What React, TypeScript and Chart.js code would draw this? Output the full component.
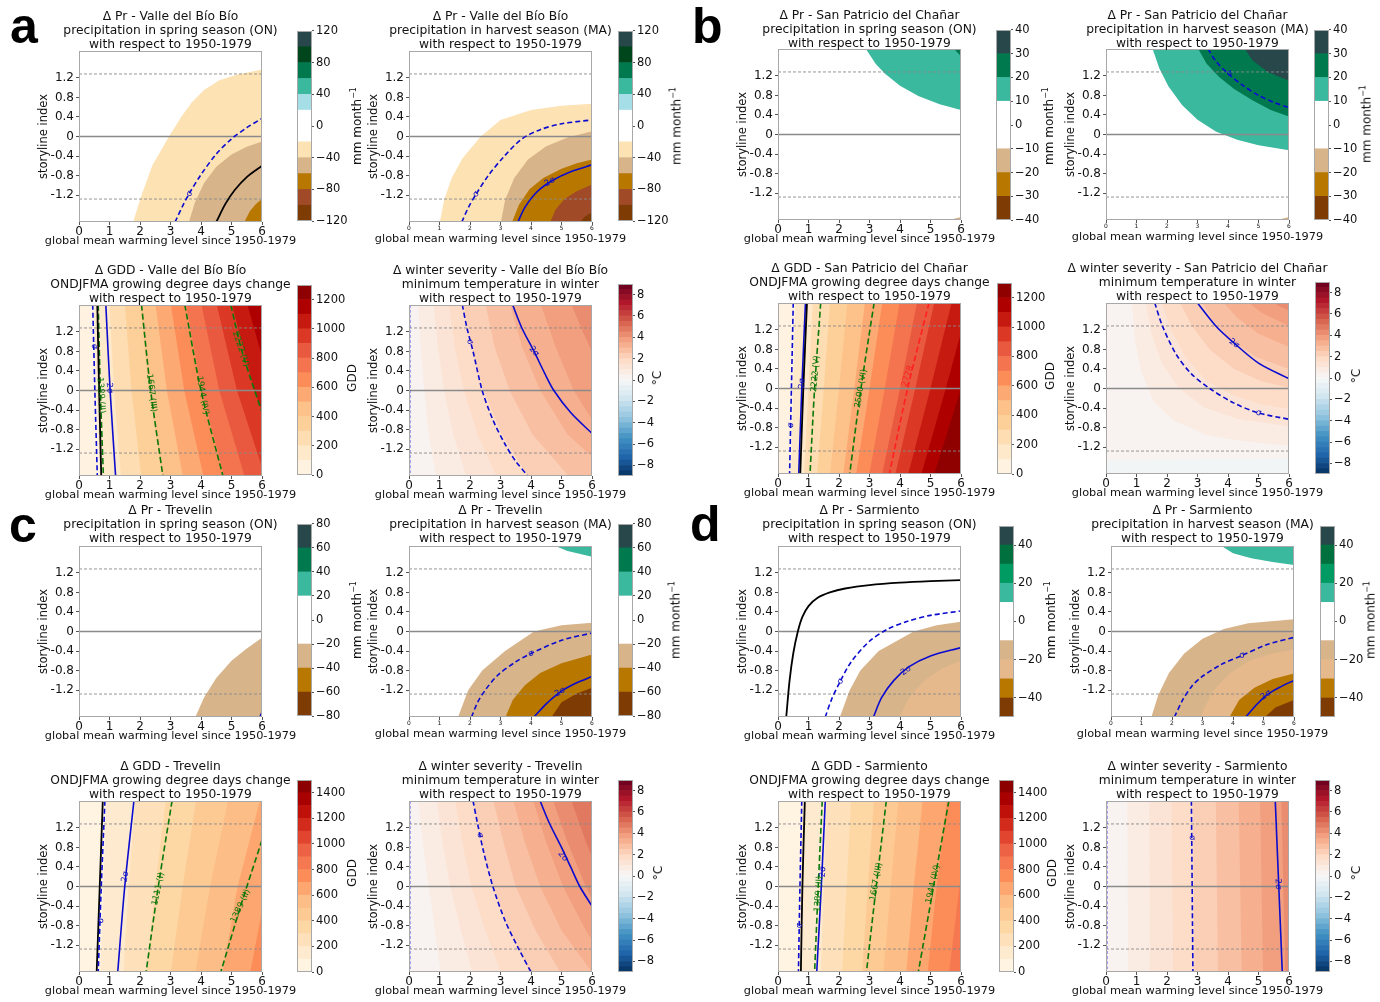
import React, { useEffect, useRef } from "react";
import { Chart, registerables } from "chart.js";

Chart.register(...registerables);

const FONT = "'DejaVu Sans', 'Liberation Sans', sans-serif";

// ---------------- axes ----------------
const xTickValues = [0, 1, 2, 3, 4, 5, 6];
const yTickValues = [-1.2, -0.8, -0.4, 0, 0.4, 0.8, 1.2];
const yTickLabels = ["-1.2", "-0.8", "-0.4", "0", "0.4", "0.8", "1.2"];
const zeroRef = [[0, 0], [6, 0]];
const upperRef = [[0, 1.28], [6, 1.28]];
const lowerRef = [[0, -1.28], [6, -1.28]];

// ---------------- colorbars ----------------
const cbPrAEdges = [-120, -100, -80, -60, -40, -20, 0, 20, 40, 60, 80, 100, 120];
const cbPrAColors = ["#7f3b04", "#a04a28", "#b87800", "#d8b48b", "#fde2b4", "#ffffff", "#ffffff", "#a6dee7", "#3bb99f", "#00794f", "#00461c", "#27474a"];
const cbPrATicks = [-120, -80, -40, 0, 40, 80, 120];

const cbPrBEdges = [-40, -30, -20, -10, 0, 10, 20, 30, 40];
const cbPrBColors = ["#7f3b04", "#b87800", "#d8b48b", "#ffffff", "#ffffff", "#3bb99f", "#00794f", "#27474a"];
const cbPrBTicks = [-40, -30, -20, -10, 0, 10, 20, 30, 40];

const cbPrCEdges = [-80, -60, -40, -20, 0, 20, 40, 60, 80];
const cbPrCColors = ["#7f3b04", "#b87800", "#d8b48b", "#ffffff", "#ffffff", "#3bb99f", "#00794f", "#27474a"];
const cbPrCTicks = [-80, -60, -40, -20, 0, 20, 40, 60, 80];

const cbPrDEdges = [-50, -40, -30, -20, -10, 0, 10, 20, 30, 40, 50];
const cbPrDColors = ["#7f3b04", "#b87800", "#e6b98c", "#d8b48b", "#ffffff", "#ffffff", "#3bb99f", "#009b62", "#00703f", "#27474a"];
const cbPrDTicks = [-40, -20, 0, 20, 40];

const cbGddAEdges = [0, 100, 200, 300, 400, 500, 600, 700, 800, 900, 1000, 1100, 1200, 1300];
const cbGddATicks = [0, 200, 400, 600, 800, 1000, 1200];
const cbGddCEdges = [0, 100, 200, 300, 400, 500, 600, 700, 800, 900, 1000, 1100, 1200, 1300, 1400, 1500];
const cbGddCTicks = [0, 200, 400, 600, 800, 1000, 1200, 1400];
const cbWsEdges = [-9, -8.5, -8, -7.5, -7, -6.5, -6, -5.5, -5, -4.5, -4, -3.5, -3, -2.5, -2, -1.5, -1, -0.5, 0, 0.5, 1, 1.5, 2, 2.5, 3, 3.5, 4, 4.5, 5, 5.5, 6, 6.5, 7, 7.5, 8, 8.5, 9];
const cbWsTicks = [-8, -6, -4, -2, 0, 2, 4, 6, 8];

const orRdAnchors = ["#fff7ec", "#fee8c8", "#fdd49e", "#fdbb84", "#fc8d59", "#ef6548", "#d7301f", "#b30000", "#7f0000"];
const rdBuRAnchors = ["#053061", "#2166ac", "#4393c3", "#92c5de", "#d1e5f0", "#f7f7f7", "#fddbc7", "#f4a582", "#d6604d", "#b2182b", "#67001f"];

// ---------------- a: Valle del Bío Bío ----------------
const bioOnM20 = [[1.75, -1.8], [2.05, -1.2], [2.4, -0.6], [2.95, 0], [3.35, 0.4], [3.7, 0.7], [4.1, 0.95], [4.6, 1.15], [5.2, 1.27], [6.0, 1.37]];
const bioOnM40 = [[3.58, -1.8], [3.8, -1.35], [4.1, -0.95], [4.5, -0.62], [5.0, -0.37], [5.5, -0.21], [6.0, -0.1]];
const bioOnM60 = [[5.38, -1.8], [5.6, -1.53], [5.8, -1.38], [6.0, -1.28]];
const bioOnSigma = [[3.15, -1.75], [3.4, -1.42], [3.65, -1.13], [4.0, -0.78], [4.5, -0.36], [5.0, -0.05], [5.5, 0.18], [6.0, 0.37]];
const bioOnBlack = [[4.5, -1.75], [4.8, -1.38], [5.1, -1.1], [5.5, -0.83], [6.0, -0.6]];

const bioMaM20 = [[1.0, -1.8], [1.15, -1.3], [1.4, -0.85], [1.75, -0.45], [2.35, 0.0], [3.0, 0.34], [4.0, 0.54], [5.0, 0.63], [6.0, 0.67]];
const bioMaM40 = [[3.0, -1.8], [3.15, -1.3], [3.45, -0.85], [3.9, -0.47], [4.5, -0.2], [5.2, -0.02], [6.0, 0.11]];
const bioMaM60 = [[3.35, -1.8], [3.6, -1.4], [3.95, -1.08], [4.4, -0.85], [5.0, -0.66], [5.5, -0.55], [6.0, -0.47]];
const bioMaM80 = [[4.6, -1.8], [4.8, -1.5], [5.1, -1.28], [5.5, -1.12], [6.0, -0.98]];
const bioMaM100 = [[5.55, -1.8], [5.75, -1.65], [6.0, -1.55]];
const bioMaSigma = [[1.73, -1.75], [1.95, -1.45], [2.2, -1.18], [2.6, -0.8], [3.1, -0.42], [3.7, -0.05], [4.3, 0.14], [5.0, 0.26], [6.0, 0.34]];
const bioMa2Sigma = [[3.57, -1.75], [3.8, -1.45], [4.2, -1.13], [4.7, -0.9], [5.3, -0.72], [6.0, -0.58]];

const bioGdd100 = [[0.5, 1.8], [0.58, 0], [0.7, -1.8]];
const bioGdd200 = [[1.0, 1.8], [1.15, 0], [1.38, -1.8]];
const bioGdd300 = [[1.5, 1.8], [1.72, 0], [2.05, -1.8]];
const bioGdd400 = [[2.0, 1.8], [2.3, 0], [2.75, -1.8]];
const bioGdd500 = [[2.5, 1.8], [2.88, 0], [3.42, -1.8]];
const bioGdd600 = [[3.0, 1.8], [3.45, 0], [4.1, -1.8]];
const bioGdd700 = [[3.5, 1.8], [4.02, 0], [4.78, -1.8]];
const bioGdd800 = [[4.0, 1.8], [4.6, 0], [5.45, -1.8]];
const bioGdd900 = [[4.5, 1.8], [5.18, 0], [6.12, -1.8]];
const bioGdd1000 = [[5.0, 1.8], [5.75, 0], [6.8, -1.8]];
const bioGdd1100 = [[5.5, 1.8], [6.32, 0], [7.5, -1.8]];
const bioGddSigma = [[0.45, 1.75], [0.52, 0], [0.6, -1.75]];
const bioGddBlack = [[0.6, 1.75], [0.66, 0], [0.73, -1.75]];
const bioGddII = [[0.63, 1.75], [0.7, 0], [0.8, -1.75]];
const bioGdd2Sigma = [[0.88, 1.75], [1.02, 0], [1.2, -1.75]];
const bioGddIII = [[2.05, 1.75], [2.35, 0], [2.75, -1.75]];
const bioGddIV = [[3.47, 1.75], [4.0, 0], [4.72, -1.75]];
const bioGddV = [[4.98, 1.75], [5.3, 0.9], [5.65, 0.2], [6.0, -0.44]];

const bioWs05 = [[0.3, 1.8], [0.38, 0.9], [0.5, 0], [0.65, -0.9], [0.9, -1.8]];
const bioWs10 = [[0.8, 1.8], [0.95, 0.9], [1.15, 0], [1.45, -0.9], [1.9, -1.8]];
const bioWs15 = [[1.3, 1.8], [1.5, 0.9], [1.8, 0], [2.25, -0.9], [2.9, -1.8]];
const bioWs20 = [[1.78, 1.8], [2.05, 0.9], [2.45, 0], [3.05, -0.9], [3.95, -1.8]];
const bioWs25 = [[2.5, 1.8], [2.8, 0.9], [3.3, 0], [4.05, -0.9], [5.3, -1.8]];
const bioWs30 = [[3.3, 1.8], [3.7, 0.9], [4.3, 0], [5.2, -0.9], [6.0, -1.35]];
const bioWs35 = [[4.3, 1.8], [4.8, 0.9], [5.4, 0], [6.0, -0.6]];
const bioWs40 = [[5.3, 1.8], [5.7, 1.2], [6.0, 0.8]];
const bioWsSigma = [[1.75, 1.75], [1.9, 1.28], [2.1, 0.8], [2.4, 0], [2.75, -0.6], [3.15, -1.1], [3.5, -1.45], [3.9, -1.75]];
const bioWs2Sigma = [[3.4, 1.75], [3.7, 1.28], [4.1, 0.8], [4.45, 0.35], [4.75, 0], [5.3, -0.45], [6.0, -0.88]];
const bioWsLeft = [[0.03, 1.75], [0.03, -1.75]];

// ---------------- b: San Patricio del Chañar ----------------
const spOnP10 = [[2.83, 1.8], [3.2, 1.45], [3.5, 1.25], [4.0, 1.0], [4.6, 0.79], [5.3, 0.62], [6.0, 0.5]];
const spOnP20 = [[5.7, 1.8], [5.85, 1.7], [6.0, 1.6]];
const spOnM10 = [[5.55, -1.8], [5.8, -1.72], [6.0, -1.69]];

const spMaP10 = [[1.5, 1.8], [1.75, 1.35], [2.05, 0.98], [2.5, 0.6], [3.0, 0.3], [3.6, 0.06], [4.3, -0.11], [5.0, -0.22], [6.0, -0.32]];
const spMaP20 = [[2.98, 1.8], [3.3, 1.45], [3.7, 1.18], [4.2, 0.93], [4.8, 0.7], [5.4, 0.5], [6.0, 0.37]];
const spMaP30 = [[4.5, 1.8], [4.8, 1.52], [5.3, 1.28], [6.0, 1.1]];
const spMaM10 = [[5.5, -1.8], [5.8, -1.72], [6.0, -1.69]];
const spMaSigma = [[3.35, 1.75], [3.6, 1.5], [4.0, 1.25], [4.5, 1.0], [5.0, 0.8], [5.5, 0.66], [6.0, 0.55]];

const spGdd100 = [[0.57, 1.8], [0.5, 0], [0.43, -1.8]];
const spGdd200 = [[1.14, 1.8], [1.0, 0], [0.85, -1.8]];
const spGdd300 = [[1.71, 1.8], [1.5, 0], [1.28, -1.8]];
const spGdd400 = [[2.28, 1.8], [2.0, 0], [1.7, -1.8]];
const spGdd500 = [[2.86, 1.8], [2.5, 0], [2.13, -1.8]];
const spGdd600 = [[3.43, 1.8], [3.0, 0], [2.55, -1.8]];
const spGdd700 = [[4.0, 1.8], [3.5, 0], [2.98, -1.8]];
const spGdd800 = [[4.57, 1.8], [4.0, 0], [3.4, -1.8]];
const spGdd900 = [[5.14, 1.8], [4.5, 0], [3.83, -1.8]];
const spGdd1000 = [[5.71, 1.8], [5.0, 0], [4.25, -1.8]];
const spGdd1100 = [[6.28, 1.8], [5.5, 0], [4.68, -1.8]];
const spGdd1200 = [[6.85, 1.8], [6.0, 0], [5.1, -1.8]];
const spGddSigma = [[0.5, 1.75], [0.44, 0], [0.38, -1.75]];
const spGdd2Sigma = [[0.9, 1.75], [0.78, 0], [0.68, -1.75]];
const spGddBlack = [[0.95, 1.75], [0.83, 0], [0.73, -1.75]];
const spGddV = [[1.4, 1.75], [1.2, 0], [1.05, -1.75]];
const spGddVI = [[3.15, 1.75], [2.72, 0], [2.35, -1.75]];
const spGddVII = [[4.95, 1.75], [4.25, 0], [3.65, -1.75]];

const spWs00 = [[-0.5, -1.47], [6.5, -1.43]];
const spWs05 = [[0.85, 1.8], [0.95, 1.0], [1.15, 0.35], [1.55, -0.25], [2.2, -0.65], [3.3, -0.95], [4.5, -1.08], [6.0, -1.17]];
const spWs10 = [[1.3, 1.8], [1.5, 1.1], [1.85, 0.5], [2.4, 0.0], [3.2, -0.38], [4.3, -0.62], [6.0, -0.78]];
const spWs15 = [[1.8, 1.8], [2.1, 1.25], [2.6, 0.65], [3.3, 0.15], [4.2, -0.15], [5.1, -0.32], [6.0, -0.42]];
const spWs20 = [[2.4, 1.8], [2.8, 1.3], [3.4, 0.8], [4.2, 0.4], [5.1, 0.15], [6.0, 0.02]];
const spWs25 = [[3.1, 1.8], [3.5, 1.4], [4.1, 1.0], [4.9, 0.65], [6.0, 0.4]];
const spWs30 = [[3.8, 1.8], [4.3, 1.45], [5.0, 1.12], [6.0, 0.85]];
const spWs35 = [[4.6, 1.8], [5.1, 1.55], [6.0, 1.28]];
const spWs40 = [[5.4, 1.8], [5.7, 1.68], [6.0, 1.6]];
const spWsSigma = [[1.6, 1.75], [1.85, 1.28], [2.3, 0.7], [2.8, 0.3], [3.4, 0.0], [4.2, -0.3], [5.0, -0.5], [6.0, -0.63]];
const spWs2Sigma = [[3.0, 1.75], [3.6, 1.28], [4.2, 0.93], [5.0, 0.52], [6.0, 0.2]];

// ---------------- c: Trevelin ----------------
const trOnM20 = [[3.78, -1.8], [4.1, -1.35], [4.5, -0.95], [5.0, -0.6], [5.5, -0.35], [6.0, -0.13]];
const trOn2Sigma = [[5.93, -1.75], [6.0, -1.65]];

const trMaP20 = [[4.6, 1.8], [5.2, 1.65], [6.0, 1.53]];
const trMaM20 = [[1.58, -1.8], [1.94, -1.2], [2.4, -0.8], [3.15, -0.4], [4.1, 0.0], [5.0, 0.13], [6.0, 0.18]];
const trMaM40 = [[3.13, -1.8], [3.4, -1.4], [3.8, -1.1], [4.3, -0.85], [5.0, -0.65], [6.0, -0.47]];
const trMaM60 = [[4.62, -1.8], [5.0, -1.45], [5.5, -1.27], [6.0, -1.15]];
const trMaSigma = [[2.05, -1.75], [2.25, -1.45], [2.5, -1.2], [2.9, -0.9], [3.5, -0.62], [4.0, -0.45], [5.0, -0.18], [6.0, -0.03]];
const trMa2Sigma = [[4.1, -1.75], [4.5, -1.48], [5.0, -1.22], [5.5, -1.05], [6.0, -0.92]];

const trGdd100 = [[0.9, 1.8], [0.8, 0], [0.7, -1.8]];
const trGdd200 = [[1.85, 1.8], [1.62, 0], [1.45, -1.8]];
const trGdd300 = [[2.85, 1.8], [2.5, 0], [2.2, -1.8]];
const trGdd400 = [[3.85, 1.8], [3.4, 0], [3.0, -1.8]];
const trGdd500 = [[4.9, 1.8], [4.3, 0], [3.8, -1.8]];
const trGdd600 = [[5.95, 1.8], [5.2, 0], [4.7, -1.8]];
const trGdd700 = [[7.0, 1.8], [6.15, 0], [5.6, -1.8]];
const trGddBlack = [[0.78, 1.75], [0.68, 0], [0.58, -1.75]];
const trGddSigma = [[0.85, 1.75], [0.73, 0], [0.63, -1.75]];
const trGdd2Sigma = [[1.8, 1.75], [1.5, 0], [1.27, -1.75]];
const trGddI = [[3.05, 1.75], [2.6, 0], [2.2, -1.75]];
const trGddII = [[6.0, 0.95], [5.3, -0.4], [4.65, -1.75]];

const trWs05 = [[0.3, 1.8], [0.45, 0.9], [0.65, 0], [0.85, -0.9], [1.05, -1.8]];
const trWs10 = [[0.9, 1.8], [1.1, 0.9], [1.35, 0], [1.7, -0.9], [2.1, -1.8]];
const trWs15 = [[1.5, 1.8], [1.75, 0.9], [2.05, 0], [2.5, -0.9], [3.05, -1.8]];
const trWs20 = [[2.1, 1.8], [2.4, 0.9], [2.75, 0], [3.3, -0.9], [4.0, -1.8]];
const trWs25 = [[2.75, 1.8], [3.1, 0.9], [3.5, 0], [4.15, -0.9], [5.0, -1.8]];
const trWs30 = [[3.4, 1.8], [3.8, 0.9], [4.3, 0], [5.0, -0.9], [6.0, -1.75]];
const trWs35 = [[4.05, 1.8], [4.5, 0.9], [5.05, 0], [5.8, -0.9], [6.0, -1.1]];
const trWs40 = [[4.7, 1.8], [5.2, 0.9], [5.8, 0], [6.0, -0.25]];
const trWs45 = [[5.3, 1.8], [5.75, 1.0], [6.0, 0.6]];
const trWs50 = [[5.9, 1.8], [6.0, 1.6]];
const trWsSigma = [[2.1, 1.75], [2.25, 1.28], [2.45, 0.7], [2.75, 0], [3.15, -0.7], [3.6, -1.28], [4.0, -1.75]];
const trWs2Sigma = [[4.3, 1.75], [4.6, 1.3], [5.0, 0.8], [5.3, 0.4], [5.6, 0], [6.0, -0.4]];
const trWsLeft = [[0.03, 1.75], [0.03, -1.75]];

// ---------------- d: Sarmiento ----------------
const saOnM10 = [[2.0, -1.8], [2.35, -1.2], [2.7, -0.8], [3.3, -0.4], [4.45, 0.0], [5.2, 0.13], [6.0, 0.2]];
const saOnM20 = [[3.95, -1.8], [4.3, -1.35], [4.8, -1.0], [5.4, -0.75], [6.0, -0.6]];
const saOnBlack = [[0.27, -1.75], [0.38, -1.0], [0.5, -0.45], [0.65, 0.0], [0.8, 0.3], [1.0, 0.52], [1.3, 0.69], [1.7, 0.8], [2.2, 0.88], [3.0, 0.95], [4.0, 1.0], [5.0, 1.03], [6.0, 1.05]];
const saOnSigma = [[1.55, -1.75], [1.75, -1.4], [2.0, -1.07], [2.4, -0.62], [3.0, -0.2], [3.6, 0.05], [4.2, 0.2], [5.0, 0.33], [6.0, 0.42]];
const saOn2Sigma = [[3.13, -1.75], [3.4, -1.35], [3.8, -1.0], [4.3, -0.72], [5.0, -0.5], [6.0, -0.33]];

const saMaP10 = [[3.5, 1.8], [4.0, 1.6], [4.6, 1.5], [5.3, 1.42], [6.0, 1.36]];
const saMaM10 = [[1.3, -1.8], [1.55, -1.3], [1.9, -0.85], [2.4, -0.45], [3.0, -0.15], [3.7, 0.05], [4.5, 0.17], [6.0, 0.25]];
const saMaM20 = [[2.9, -1.8], [3.3, -1.25], [3.9, -0.85], [4.6, -0.58], [5.3, -0.45], [6.0, -0.37]];
const saMaM30 = [[3.84, -1.8], [4.2, -1.4], [4.7, -1.15], [5.3, -0.97], [6.0, -0.86]];
const saMaM40 = [[4.96, -1.8], [5.4, -1.55], [6.0, -1.4]];
const saMaSigma = [[2.08, -1.75], [2.35, -1.4], [2.65, -1.12], [2.95, -0.94], [3.6, -0.68], [4.3, -0.49], [5.1, -0.27], [6.0, -0.12]];
const saMa2Sigma = [[4.42, -1.75], [4.8, -1.48], [5.1, -1.3], [5.5, -1.15], [6.0, -1.0]];

const saGdd100 = [[0.8, 1.8], [0.75, 0], [0.7, -1.8]];
const saGdd200 = [[1.6, 1.8], [1.5, 0], [1.4, -1.8]];
const saGdd300 = [[2.4, 1.8], [2.25, 0], [2.1, -1.8]];
const saGdd400 = [[3.15, 1.8], [2.95, 0], [2.75, -1.8]];
const saGdd500 = [[3.95, 1.8], [3.7, 0], [3.45, -1.8]];
const saGdd600 = [[4.75, 1.8], [4.45, 0], [4.2, -1.8]];
const saGdd700 = [[5.55, 1.8], [5.2, 0], [4.9, -1.8]];
const saGdd800 = [[6.35, 1.8], [5.95, 0], [5.6, -1.8]];
const saGddSigma = [[0.78, 1.75], [0.72, 0], [0.67, -1.75]];
const saGddBlack = [[0.88, 1.75], [0.8, 0], [0.75, -1.75]];
const saGddII = [[1.45, 1.75], [1.32, 0], [1.2, -1.75]];
const saGdd2Sigma = [[1.55, 1.75], [1.42, 0], [1.27, -1.75]];
const saGddIII = [[3.55, 1.75], [3.22, 0], [2.9, -1.75]];
const saGddIV = [[5.6, 1.75], [5.1, 0], [4.6, -1.75]];

const saWs05 = [[0.7, 1.8], [0.72, -1.8]];
const saWs10 = [[1.42, 1.8], [1.45, -1.8]];
const saWs15 = [[2.15, 1.8], [2.2, -1.8]];
const saWs20 = [[2.85, 1.8], [2.9, -1.8]];
const saWs25 = [[3.6, 1.8], [3.67, -1.8]];
const saWs30 = [[4.35, 1.8], [4.45, -1.8]];
const saWs35 = [[5.05, 1.8], [5.15, -1.8]];
const saWs40 = [[5.75, 1.8], [5.88, -1.8]];
const saWsSigma = [[2.8, 1.75], [2.85, -1.75]];
const saWs2Sigma = [[5.55, 1.75], [5.78, -1.75]];
const saWsLeft = [[0.03, 1.75], [0.03, -1.75]];

// ---------------- contour labels ----------------
const a1Labels = [{ t: "σ", x: 3.62, y: -1.17, r: -55, k: "sigma" }];
const a2Labels = [{ t: "σ", x: 2.2, y: -1.18, r: -50, k: "sigma" }, { t: "2σ", x: 4.62, y: -0.93, r: -30, k: "sigma" }];
const a3Labels = [
  { t: "σ", x: 0.5, y: 0.9, r: 85, k: "sigma" }, { t: "2σ", x: 1.0, y: 0.05, r: 85, k: "sigma" },
  { t: "1389 (II)", x: 0.72, y: -0.1, r: 86, k: "green" }, { t: "1667 (III)", x: 2.38, y: -0.05, r: 83, k: "green" },
  { t: "1944 (IV)", x: 4.05, y: -0.1, r: 80, k: "green" }, { t: "2222 (V)", x: 5.3, y: 0.85, r: 72, k: "green" },
];
const a4Labels = [{ t: "σ", x: 2.0, y: 1.0, r: 65, k: "sigma" }, { t: "2σ", x: 4.1, y: 0.8, r: 50, k: "sigma" }];
const b2Labels = [{ t: "σ", x: 4.05, y: 1.25, r: -25, k: "sigma" }];
const b3Labels = [
  { t: "σ", x: 0.42, y: -0.75, r: -88, k: "sigma" }, { t: "2σ", x: 0.79, y: 0.1, r: -87, k: "sigma" },
  { t: "2222 (V)", x: 1.23, y: 0.3, r: -85, k: "green" }, { t: "2500 (VI)", x: 2.72, y: 0.0, r: -80, k: "green" },
  { t: "2778", x: 4.25, y: 0.25, r: -72, k: "red" },
];
const b4Labels = [{ t: "2σ", x: 4.2, y: 0.92, r: 35, k: "sigma" }, { t: "σ", x: 5.0, y: -0.5, r: 13, k: "sigma" }];
const c2Labels = [{ t: "σ", x: 4.0, y: -0.45, r: -20, k: "sigma" }, { t: "2σ", x: 4.95, y: -1.24, r: -30, k: "sigma" }];
const c3Labels = [
  { t: "σ", x: 0.72, y: -0.7, r: -86, k: "sigma" }, { t: "2σ", x: 1.52, y: 0.2, r: -80, k: "sigma" },
  { t: "1111 (I)", x: 2.6, y: -0.05, r: -78, k: "green" }, { t: "1389 (II)", x: 5.3, y: -0.4, r: -65, k: "green" },
];
const c4Labels = [{ t: "σ", x: 2.33, y: 1.05, r: 75, k: "sigma" }, { t: "2σ", x: 5.05, y: 0.62, r: 50, k: "sigma" }];
const d1Labels = [{ t: "σ", x: 2.05, y: -1.02, r: -55, k: "sigma" }, { t: "2σ", x: 4.2, y: -0.8, r: -35, k: "sigma" }];
const d2Labels = [{ t: "σ", x: 4.3, y: -0.49, r: -15, k: "sigma" }, { t: "2σ", x: 5.08, y: -1.3, r: -35, k: "sigma" }];
const d3Labels = [
  { t: "σ", x: 0.7, y: -0.8, r: -88, k: "sigma" }, { t: "2σ", x: 1.47, y: 0.3, r: -86, k: "sigma" },
  { t: "1389 (II)", x: 1.33, y: -0.15, r: -86, k: "green" }, { t: "1667 (III)", x: 3.22, y: 0.1, r: -80, k: "green" },
  { t: "1944 (IV)", x: 5.08, y: 0.05, r: -77, k: "green" },
];
const d4Labels = [{ t: "σ", x: 2.82, y: 1.0, r: 89, k: "sigma" }, { t: "2σ", x: 5.64, y: 0.05, r: 87, k: "sigma" }];

// ---------------- helpers ----------------
function hexToRgb(h: string) {
  return [parseInt(h.slice(1, 3), 16), parseInt(h.slice(3, 5), 16), parseInt(h.slice(5, 7), 16)];
}
function cmap(anchors: string[], t: number) {
  const n = anchors.length - 1;
  const f = Math.min(Math.max(t, 0), 1) * n;
  const i = Math.min(Math.floor(f), n - 1);
  const u = f - i;
  const a = hexToRgb(anchors[i]);
  const b = hexToRgb(anchors[i + 1]);
  return `rgb(${a.map((v, k) => Math.round(v + (b[k] - v) * u)).join(",")})`;
}
function bandColors(anchors: string[], edges: number[]) {
  const lo = edges[0];
  const hi = edges[edges.length - 1];
  return edges.slice(0, -1).map((e, i) => cmap(anchors, ((e + edges[i + 1]) / 2 - lo) / (hi - lo)));
}

const CB_PR_A = { edges: cbPrAEdges, colors: cbPrAColors, ticks: cbPrATicks };
const CB_PR_B = { edges: cbPrBEdges, colors: cbPrBColors, ticks: cbPrBTicks };
const CB_PR_C = { edges: cbPrCEdges, colors: cbPrCColors, ticks: cbPrCTicks };
const CB_PR_D = { edges: cbPrDEdges, colors: cbPrDColors, ticks: cbPrDTicks };
const CB_GDD_A = { edges: cbGddAEdges, colors: bandColors(orRdAnchors, cbGddAEdges), ticks: cbGddATicks };
const CB_GDD_C = { edges: cbGddCEdges, colors: bandColors(orRdAnchors, cbGddCEdges), ticks: cbGddCTicks };
const CB_WS = { edges: cbWsEdges, colors: bandColors(rdBuRAnchors, cbWsEdges), ticks: cbWsTicks };

function bandColor(cb: any, lvl: number) {
  const i = cb.edges.findIndex((e: number) => Math.abs(e - lvl) < 1e-6);
  return cb.colors[Math.max(0, Math.min(i, cb.colors.length - 1))];
}

const PLOT_W = 183, PLOT_H = 171, WY = 42, PT = 10, PR = 10, HX = 18;
const CBW = 15, CB_AX = 42, CB_PAD = 8;

const LINE_STYLE: any = {
  sigma: { color: "#0b0bd0", dash: [5, 3], width: 1.6 },
  sigma2: { color: "#0b0bd0", dash: [], width: 1.6 },
  black: { color: "#000000", dash: [], width: 1.8 },
  green: { color: "#0a780a", dash: [6, 3], width: 1.6 },
  red: { color: "#ff2020", dash: [6, 3], width: 1.6 },
  left: { color: "#5656ee", dash: [3, 2], width: 1.2 },
};
const LABEL_COLOR: any = { sigma: "#1212c0", green: "#0a780a", red: "#ff2020" };

const START: any = { br: [[-5, -5], [-6, -5]], tr: [[-5, 5], [-6, 5]], right: [[-5, 5], [-6, 5]] };
const TAIL: any = { br: [[11, -5]], tr: [[11, 5]], right: [[11, -5], [11, 5]] };
const BASE_POLY = [[-5, -5], [-6, 5], [11, 5], [11, -5]];

const toXY = (pts: number[][]) => pts.map(([x, y]) => ({ x, y }));

function fillDs(pts: number[][], color: string) {
  return {
    data: toXY(pts), fill: "shape", backgroundColor: color, borderColor: "rgba(0,0,0,0)",
    borderWidth: 0, pointRadius: 0, pointHoverRadius: 0, tension: 0,
  };
}
function lineDs(pts: number[][], st: any, tension = 0.3) {
  return {
    data: toXY(pts), fill: false, borderColor: st.color, borderWidth: st.width, borderDash: st.dash,
    pointRadius: 0, pointHoverRadius: 0, tension, borderCapStyle: "butt",
  };
}

function buildDatasets(p: any) {
  const ds: any[] = [];
  if (p.base !== undefined) ds.push(fillDs(BASE_POLY, bandColor(p.cb, p.base)));
  for (const f of p.fills) ds.push(fillDs([...START[f.side], ...f.pts, ...TAIL[f.side]], bandColor(p.cb, f.lvl)));
  ds.push(lineDs(zeroRef, { color: "#8a8a8a", dash: [], width: 1.3 }, 0));
  ds.push(lineDs(upperRef, { color: "#8a8a8a", dash: [3, 2], width: 0.9 }, 0));
  ds.push(lineDs(lowerRef, { color: "#8a8a8a", dash: [3, 2], width: 0.9 }, 0));
  for (const l of p.lines) ds.push(lineDs(l.pts, LINE_STYLE[l.k]));
  return ds.reverse();
}

const clabelPlugin = {
  id: "clabels",
  afterDatasetsDraw(chart: any, _a: any, opts: any) {
    const items = (opts && opts.items) || [];
    const { ctx, chartArea: a } = chart;
    const xs = chart.scales.x, ys = chart.scales.y;
    ctx.save();
    ctx.beginPath();
    ctx.rect(a.left, a.top, a.right - a.left, a.bottom - a.top);
    ctx.clip();
    ctx.font = `8.5px ${FONT}`;
    ctx.textAlign = "center";
    ctx.textBaseline = "middle";
    for (const it of items) {
      ctx.save();
      ctx.translate(xs.getPixelForValue(it.x), ys.getPixelForValue(it.y));
      ctx.rotate((it.r * Math.PI) / 180);
      ctx.fillStyle = LABEL_COLOR[it.k];
      ctx.fillText(it.t, 0, 0);
      ctx.restore();
    }
    ctx.restore();
  },
};

const framePlugin = {
  id: "frame",
  afterDraw(chart: any) {
    const { ctx, chartArea: a } = chart;
    ctx.save();
    ctx.strokeStyle = "#a8a8a8";
    ctx.lineWidth = 1;
    ctx.strokeRect(Math.round(a.left) + 0.5, Math.round(a.top) + 0.5, Math.round(a.right - a.left) - 1, Math.round(a.bottom - a.top) - 1);
    ctx.restore();
  },
};

function fmtCb(v: number) {
  return v < 0 ? "\u2212" + String(-v) : String(v);
}

function plotConfig(p: any): any {
  const xFont = { family: FONT, size: p.smallX ? 6 : 12 };
  return {
    type: "line",
    data: { datasets: buildDatasets(p) },
    options: {
      responsive: false, animation: false, events: [],
      layout: { padding: { top: PT, right: PR, bottom: 0, left: 0 } },
      plugins: { legend: { display: false }, tooltip: { enabled: false }, title: { display: false }, clabels: { items: p.labels } },
      scales: {
        x: {
          type: "linear", min: 0, max: 6,
          afterBuildTicks: (s: any) => { s.ticks = xTickValues.map((v) => ({ value: v })); },
          afterFit: (s: any) => { s.height = HX; },
          ticks: { font: xFont, color: "#111", padding: 0, autoSkip: false, maxRotation: 0, callback: (v: any) => String(v) },
          grid: { drawOnChartArea: false, tickLength: 3, color: "#555" },
          border: { display: false },
          title: { display: false },
        },
        y: {
          type: "linear", min: -1.75, max: 1.75,
          afterBuildTicks: (s: any) => { s.ticks = yTickValues.map((v) => ({ value: v })); },
          afterFit: (s: any) => { s.width = WY; },
          ticks: { font: { family: FONT, size: 12 }, color: "#111", padding: 2, autoSkip: false, callback: (_v: any, i: number) => yTickLabels[i] },
          grid: { drawOnChartArea: false, tickLength: 3, color: "#555" },
          border: { display: false },
          title: { display: true, text: "storyline index", font: { family: FONT, size: 11.5 }, color: "#111", padding: 0 },
        },
      },
    },
    plugins: [clabelPlugin, framePlugin],
  };
}

function cbConfig(p: any): any {
  const cb = p.cb;
  return {
    type: "bar",
    data: {
      labels: ["cb"],
      datasets: cb.colors.map((c: string, i: number) => ({
        data: [[cb.edges[i], cb.edges[i + 1]]], backgroundColor: c, borderWidth: 0,
        barPercentage: 1, categoryPercentage: 1, grouped: false,
      })),
    },
    options: {
      responsive: false, animation: false, events: [],
      layout: { padding: { top: CB_PAD, bottom: CB_PAD, left: 0, right: 0 } },
      plugins: { legend: { display: false }, tooltip: { enabled: false } },
      scales: {
        x: { display: false },
        y: {
          position: "right", min: cb.edges[0], max: cb.edges[cb.edges.length - 1],
          afterBuildTicks: (s: any) => { s.ticks = cb.ticks.map((v: number) => ({ value: v })); },
          afterFit: (s: any) => { s.width = CB_AX; },
          ticks: { font: { family: FONT, size: 11.5 }, color: "#111", padding: 2, autoSkip: false, callback: (v: any) => fmtCb(Number(v)) },
          grid: { drawOnChartArea: false, tickLength: 2, color: "#555" },
          border: { display: false },
        },
      },
    },
    plugins: [framePlugin],
  };
}

// ---------------- panels ----------------
const PR_TITLE_ON = "precipitation in spring season (ON)";
const PR_TITLE_MA = "precipitation in harvest season (MA)";
const GDD_TITLE = "ONDJFMA growing degree days change";
const WS_TITLE = "minimum temperature in winter";
const REF_TITLE = "with respect to 1950-1979";
const X_TITLE = "global mean warming level since 1950-1979";

const PANELS: any[] = [
  // a
  { title: ["Δ Pr - Valle del Bío Bío", PR_TITLE_ON, REF_TITLE], titleY: 16, L: 79, T: 51, cb: CB_PR_A, cbL: 297, cbT: 30, cbH: 192, unit: "mm", ux: 355, uy: 126,
    fills: [{ pts: bioOnM20, side: "br", lvl: -40 }, { pts: bioOnM40, side: "br", lvl: -60 }, { pts: bioOnM60, side: "br", lvl: -80 }],
    lines: [{ pts: bioOnSigma, k: "sigma" }, { pts: bioOnBlack, k: "black" }], labels: a1Labels, smallX: false },
  { title: ["Δ Pr - Valle del Bío Bío", PR_TITLE_MA, REF_TITLE], titleY: 16, L: 409, T: 51, cb: CB_PR_A, cbL: 618, cbT: 30, cbH: 192, unit: "mm", ux: 675, uy: 126,
    fills: [{ pts: bioMaM20, side: "br", lvl: -40 }, { pts: bioMaM40, side: "br", lvl: -60 }, { pts: bioMaM60, side: "br", lvl: -80 }, { pts: bioMaM80, side: "br", lvl: -100 }, { pts: bioMaM100, side: "br", lvl: -120 }],
    lines: [{ pts: bioMaSigma, k: "sigma" }, { pts: bioMa2Sigma, k: "sigma2" }], labels: a2Labels, smallX: true },
  { title: ["Δ GDD - Valle del Bío Bío", GDD_TITLE, REF_TITLE], titleY: 270, L: 79, T: 305, cb: CB_GDD_A, cbL: 297, cbT: 284, cbH: 192, unit: "GDD", ux: 352, uy: 378, base: 0, xtClip: 500,
    fills: [bioGdd100, bioGdd200, bioGdd300, bioGdd400, bioGdd500, bioGdd600, bioGdd700, bioGdd800, bioGdd900, bioGdd1000, bioGdd1100].map((pts, i) => ({ pts, side: "right", lvl: cbGddAEdges[i + 1] })),
    lines: [{ pts: bioGddSigma, k: "sigma" }, { pts: bioGddII, k: "green" }, { pts: bioGddBlack, k: "black" }, { pts: bioGdd2Sigma, k: "sigma2" }, { pts: bioGddIII, k: "green" }, { pts: bioGddIV, k: "green" }, { pts: bioGddV, k: "green" }],
    labels: a3Labels, smallX: false },
  { title: ["Δ winter severity - Valle del Bío Bío", WS_TITLE, REF_TITLE], titleY: 270, L: 409, T: 305, cb: CB_WS, cbL: 618, cbT: 283, cbH: 194, unit: "C", ux: 657, uy: 378, base: 0, xtClip: 500,
    fills: [bioWs05, bioWs10, bioWs15, bioWs20, bioWs25, bioWs30, bioWs35, bioWs40].map((pts, i) => ({ pts, side: "right", lvl: cbWsEdges[19 + i] })),
    lines: [{ pts: bioWsLeft, k: "left" }, { pts: bioWsSigma, k: "sigma" }, { pts: bioWs2Sigma, k: "sigma2" }], labels: a4Labels, smallX: false },
  // b
  { title: ["Δ Pr - San Patricio del Chañar", PR_TITLE_ON, REF_TITLE], titleY: 15, L: 778, T: 49, cb: CB_PR_B, cbL: 996, cbT: 29, cbH: 192, unit: "mm", ux: 1047, uy: 126,
    fills: [{ pts: spOnP10, side: "tr", lvl: 10 }, { pts: spOnP20, side: "tr", lvl: 20 }, { pts: spOnM10, side: "br", lvl: -20 }],
    lines: [], labels: [], smallX: false },
  { title: ["Δ Pr - San Patricio del Chañar", PR_TITLE_MA, REF_TITLE], titleY: 15, L: 1106, T: 49, cb: CB_PR_B, cbL: 1314, cbT: 29, cbH: 192, unit: "mm", ux: 1365, uy: 124,
    fills: [{ pts: spMaP10, side: "tr", lvl: 10 }, { pts: spMaP20, side: "tr", lvl: 20 }, { pts: spMaP30, side: "tr", lvl: 30 }, { pts: spMaM10, side: "br", lvl: -20 }],
    lines: [{ pts: spMaSigma, k: "sigma" }], labels: b2Labels, smallX: true },
  { title: ["Δ GDD - San Patricio del Chañar", GDD_TITLE, REF_TITLE], titleY: 268, L: 778, T: 303, cb: CB_GDD_A, cbL: 997, cbT: 282, cbH: 193, unit: "GDD", ux: 1050, uy: 376, base: 0,
    fills: [spGdd100, spGdd200, spGdd300, spGdd400, spGdd500, spGdd600, spGdd700, spGdd800, spGdd900, spGdd1000, spGdd1100, spGdd1200].map((pts, i) => ({ pts, side: "right", lvl: cbGddAEdges[i + 1] })),
    lines: [{ pts: spGddSigma, k: "sigma" }, { pts: spGdd2Sigma, k: "sigma2" }, { pts: spGddBlack, k: "black" }, { pts: spGddV, k: "green" }, { pts: spGddVI, k: "green" }, { pts: spGddVII, k: "red" }],
    labels: b3Labels, smallX: false },
  { title: ["Δ winter severity - San Patricio del Chañar", WS_TITLE, REF_TITLE], titleY: 268, L: 1106, T: 303, cb: CB_WS, cbL: 1315, cbT: 281, cbH: 194, unit: "C", ux: 1356, uy: 376, base: -0.5,
    fills: [{ pts: spWs00, side: "tr", lvl: 0 }, ...[spWs05, spWs10, spWs15, spWs20, spWs25, spWs30, spWs35, spWs40].map((pts, i) => ({ pts, side: "tr", lvl: cbWsEdges[19 + i] }))],
    lines: [{ pts: spWsSigma, k: "sigma" }, { pts: spWs2Sigma, k: "sigma2" }], labels: b4Labels, smallX: false },
  // c
  { title: ["Δ Pr - Trevelin", PR_TITLE_ON, REF_TITLE], titleY: 510, L: 79, T: 546, cb: CB_PR_C, cbL: 297, cbT: 523, cbH: 194, unit: "mm", ux: 355, uy: 620,
    fills: [{ pts: trOnM20, side: "br", lvl: -40 }], lines: [{ pts: trOn2Sigma, k: "sigma2" }], labels: [], smallX: false },
  { title: ["Δ Pr - Trevelin", PR_TITLE_MA, REF_TITLE], titleY: 510, L: 409, T: 546, cb: CB_PR_C, cbL: 618, cbT: 523, cbH: 194, unit: "mm", ux: 674, uy: 620,
    fills: [{ pts: trMaP20, side: "tr", lvl: 20 }, { pts: trMaM20, side: "br", lvl: -40 }, { pts: trMaM40, side: "br", lvl: -60 }, { pts: trMaM60, side: "br", lvl: -80 }],
    lines: [{ pts: trMaSigma, k: "sigma" }, { pts: trMa2Sigma, k: "sigma2" }], labels: c2Labels, smallX: true },
  { title: ["Δ GDD - Trevelin", GDD_TITLE, REF_TITLE], titleY: 766, L: 79, T: 801, cb: CB_GDD_C, cbL: 297, cbT: 779, cbH: 194, unit: "GDD", ux: 352, uy: 873, base: 0,
    fills: [trGdd100, trGdd200, trGdd300, trGdd400, trGdd500, trGdd600, trGdd700].map((pts, i) => ({ pts, side: "right", lvl: cbGddCEdges[i + 1] })),
    lines: [{ pts: trGddBlack, k: "black" }, { pts: trGddSigma, k: "sigma" }, { pts: trGdd2Sigma, k: "sigma2" }, { pts: trGddI, k: "green" }, { pts: trGddII, k: "green" }],
    labels: c3Labels, smallX: false },
  { title: ["Δ winter severity - Trevelin", WS_TITLE, REF_TITLE], titleY: 766, L: 409, T: 801, cb: CB_WS, cbL: 618, cbT: 779, cbH: 194, unit: "C", ux: 658, uy: 873, base: 0,
    fills: [trWs05, trWs10, trWs15, trWs20, trWs25, trWs30, trWs35, trWs40, trWs45, trWs50].map((pts, i) => ({ pts, side: "right", lvl: cbWsEdges[19 + i] })),
    lines: [{ pts: trWsLeft, k: "left" }, { pts: trWsSigma, k: "sigma" }, { pts: trWs2Sigma, k: "sigma2" }], labels: c4Labels, smallX: false },
  // d
  { title: ["Δ Pr - Sarmiento", PR_TITLE_ON, REF_TITLE], titleY: 510, L: 778, T: 546, cb: CB_PR_D, cbL: 999, cbT: 525, cbH: 193, unit: "mm", ux: 1049, uy: 620,
    fills: [{ pts: saOnM10, side: "br", lvl: -20 }, { pts: saOnM20, side: "br", lvl: -30 }],
    lines: [{ pts: saOnBlack, k: "black" }, { pts: saOnSigma, k: "sigma" }, { pts: saOn2Sigma, k: "sigma2" }], labels: d1Labels, smallX: false },
  { title: ["Δ Pr - Sarmiento", PR_TITLE_MA, REF_TITLE], titleY: 510, L: 1111, T: 546, cb: CB_PR_D, cbL: 1320, cbT: 525, cbH: 193, unit: "mm", ux: 1369, uy: 620,
    fills: [{ pts: saMaP10, side: "tr", lvl: 10 }, { pts: saMaM10, side: "br", lvl: -20 }, { pts: saMaM20, side: "br", lvl: -30 }, { pts: saMaM30, side: "br", lvl: -40 }, { pts: saMaM40, side: "br", lvl: -50 }],
    lines: [{ pts: saMaSigma, k: "sigma" }, { pts: saMa2Sigma, k: "sigma2" }], labels: d2Labels, smallX: true },
  { title: ["Δ GDD - Sarmiento", GDD_TITLE, REF_TITLE], titleY: 766, L: 778, T: 801, cb: CB_GDD_C, cbL: 999, cbT: 779, cbH: 194, unit: "GDD", ux: 1052, uy: 873, base: 0,
    fills: [saGdd100, saGdd200, saGdd300, saGdd400, saGdd500, saGdd600, saGdd700, saGdd800].map((pts, i) => ({ pts, side: "right", lvl: cbGddCEdges[i + 1] })),
    lines: [{ pts: saGddSigma, k: "sigma" }, { pts: saGddBlack, k: "black" }, { pts: saGddII, k: "green" }, { pts: saGdd2Sigma, k: "sigma2" }, { pts: saGddIII, k: "green" }, { pts: saGddIV, k: "green" }],
    labels: d3Labels, smallX: false },
  { title: ["Δ winter severity - Sarmiento", WS_TITLE, REF_TITLE], titleY: 766, L: 1106, T: 801, cb: CB_WS, cbL: 1315, cbT: 779, cbH: 194, unit: "C", ux: 1356, uy: 873, base: 0,
    fills: [saWs05, saWs10, saWs15, saWs20, saWs25, saWs30, saWs35, saWs40].map((pts, i) => ({ pts, side: "right", lvl: cbWsEdges[19 + i] })),
    lines: [{ pts: saWsLeft, k: "left" }, { pts: saWsSigma, k: "sigma" }, { pts: saWs2Sigma, k: "sigma2" }], labels: d4Labels, smallX: false },
];

const LETTERS = [
  { t: "a", x: 10, base: 43 },
  { t: "b", x: 692, base: 43 },
  { t: "c", x: 9, base: 542 },
  { t: "d", x: 690, base: 541 },
];

function UnitLabel({ unit }: { unit: string }) {
  if (unit === "mm") return <span>mm month<sup style={{ fontSize: "8px" }}>−1</sup></span>;
  if (unit === "GDD") return <span>GDD</span>;
  return <span>°C</span>;
}

function PanelView({ p }: { p: any }) {
  const plotRef = useRef<HTMLCanvasElement>(null);
  const cbRef = useRef<HTMLCanvasElement>(null);
  useEffect(() => {
    const c1 = new Chart(plotRef.current as any, plotConfig(p));
    const c2 = new Chart(cbRef.current as any, cbConfig(p));
    return () => {
      c1.destroy();
      c2.destroy();
    };
  }, [p]);
  const cw = WY + PLOT_W + PR;
  const ch = PT + PLOT_H + HX;
  const cbw = CBW + CB_AX;
  const cbh = p.cbH + 2 * CB_PAD;
  const xtCenter = p.T + PLOT_H + (p.smallX ? 16.5 : 18.5);
  const xtTop = xtCenter - 8;
  const xtHeight = p.xtClip ? p.xtClip - xtTop : 18;
  return (
    <>
      <canvas ref={plotRef} width={cw} height={ch} style={{ position: "absolute", left: p.L - WY, top: p.T - PT, width: cw, height: ch }} />
      <canvas ref={cbRef} width={cbw} height={cbh} style={{ position: "absolute", left: p.cbL, top: p.cbT - CB_PAD, width: cbw, height: cbh }} />
      <div style={{ position: "absolute", left: p.L + PLOT_W / 2, top: p.titleY - 7, transform: "translateX(-50%)", font: `12.3px ${FONT}`, lineHeight: "14px", textAlign: "center", whiteSpace: "nowrap", color: "#111" }}>
        {p.title.map((t: string, i: number) => <div key={i}>{t}</div>)}
      </div>
      <div style={{ position: "absolute", left: p.L + PLOT_W / 2 - 140, top: xtTop, width: 280, height: xtHeight, overflow: "hidden", textAlign: "center", font: `11.3px ${FONT}`, lineHeight: "16px", whiteSpace: "nowrap", color: "#111" }}>
        {X_TITLE}
      </div>
      <div style={{ position: "absolute", left: p.ux, top: p.uy, transform: "translate(-50%,-50%) rotate(-90deg)", font: `12px ${FONT}`, whiteSpace: "nowrap", color: "#111", lineHeight: "14px" }}>
        <UnitLabel unit={p.unit} />
      </div>
    </>
  );
}

export default function App() {
  return (
    <div style={{ position: "fixed", left: 0, top: 0, width: 1380, height: 1002, background: "#ffffff", overflow: "hidden" }}>
      {PANELS.map((p, i) => <PanelView key={i} p={p} />)}
      {LETTERS.map((l) => (
        <div key={l.t} style={{ position: "absolute", left: l.x, top: l.base - 42, font: "bold 50px 'Liberation Sans', Arial, sans-serif", lineHeight: "50px", color: "#000" }}>{l.t}</div>
      ))}
    </div>
  );
}
